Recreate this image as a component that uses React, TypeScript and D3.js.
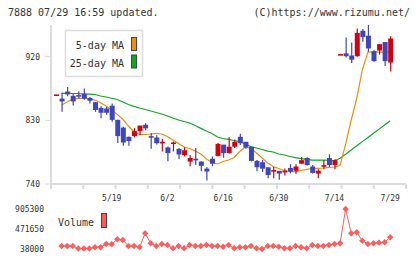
import React, { useEffect } from 'react';
import * as d3 from 'd3';

// trading days shown on the chart
const dates = [
  '5/1', '5/2', '5/7', '5/8', '5/9', '5/12', '5/13', '5/14', '5/15', '5/16',
  '5/19', '5/20', '5/21', '5/22', '5/23', '5/26', '5/27', '5/28', '5/29', '5/30',
  '6/2', '6/3', '6/4', '6/5', '6/6', '6/9', '6/10', '6/11', '6/12', '6/13',
  '6/16', '6/17', '6/18', '6/19', '6/20', '6/23', '6/24', '6/25', '6/26', '6/27',
  '6/30', '7/1', '7/2', '7/3', '7/4', '7/7', '7/8', '7/9', '7/10', '7/11',
  '7/14', '7/15', '7/16', '7/17', '7/18', '7/22', '7/23', '7/24', '7/25', '7/28',
  '7/29',
];

const opens = [
  866, 860, 870, 864, 865, 867, 861, 855, 847, 846,
  850, 830, 819, 806, 807, 814, 823, 807, 805, 798,
  791, 797, 789, 780, 771, 775, 771, 761, 775, 779,
  795, 783, 792, 806, 799, 792, 772, 770, 763, 758,
  758, 757, 762, 758, 768, 776, 764, 754, 765, 776,
  766, 923, 924, 921, 920, 956, 949, 927, 928, 940,
  911,
];
const highs = [
  866, 869, 877, 868, 871, 875, 863, 856, 850, 849,
  854, 831, 821, 807, 819, 822, 826, 812, 809, 804,
  793, 800, 791, 792, 781, 791, 772, 764, 779, 798,
  795, 806, 803, 811, 799, 793, 774, 774, 763, 764,
  758, 762, 768, 768, 778, 778, 767, 761, 774, 782,
  775, 923, 947, 940, 960, 959, 965, 929, 938, 940,
  949,
];
const lows = [
  866, 842, 864, 851, 861, 859, 854, 842, 833, 838,
  828, 798, 794, 794, 806, 809, 816, 790, 796, 786,
  772, 786, 775, 779, 765, 767, 758, 745, 765, 779,
  777, 783, 791, 795, 790, 772, 758, 757, 748, 748,
  746, 752, 755, 754, 768, 766, 755, 748, 761, 764,
  761, 923, 919, 911, 920, 941, 927, 913, 923, 907,
  899,
];
const closes = [
  866, 856, 866, 856, 864, 860, 857, 844, 840, 840,
  830, 807, 798, 800, 814, 822, 818, 805, 797, 799,
  783, 798, 781, 787, 776, 773, 765, 757, 768, 796,
  783, 792, 799, 797, 791, 772, 763, 761, 752, 759,
  754, 758, 757, 764, 773, 766, 755, 758, 766, 766,
  773, 923, 920, 915, 953, 947, 931, 913, 937, 913,
  945,
];

const ma5 = [
  null, 851.7, 855.9, 860.2, 861.1, 861.1, 860.2, 858.7, 854.9, 850.3,
  844.5, 838.5, 831.5, 822, 813.5, 810, 810, 810.7, 811.7, 810.7,
  807.1, 802.2, 797.2, 792.3, 790.2, 786.6, 782.4, 775.3, 770.4, 768.3,
  771.8, 773.9, 777.5, 785.9, 792.3, 790.2, 783.8, 776.8, 769.7, 764.7,
  761.9, 759.1, 757.4, 757.4, 759.1, 760.8, 761.9, 762.2, 762.6, 763.6,
  764, 766.2, 796.5, 830.5, 861.6, 901.2, 926.6, 927.3, 926.6, 926.6,
  926.6,
];
const ma25 = [
  null, 868.2, 868.2, 868, 868, 867.2, 867.2, 866.5, 864.4, 863,
  861.2, 859.5, 855.9, 852.4, 849.8, 847.4, 845.3, 843.2, 841.1, 839,
  836.1, 833.3, 830.5, 828.4, 826.2, 822.7, 818.7, 814.9, 811.4, 806.4,
  804.3, 803.2, 801.5, 799.8, 796.5, 792.7, 790.9, 788.8, 786.6, 785.2,
  782.4, 781, 778.9, 777.2, 776, 774.9, 773.9, 773.9, 773.9, 773.5,
  772.9, 776.3, 782.1, 788.1, 794, 799.9, 805.7, 811.7, 817.6, 823.5,
  829.5,
];

const volumes = [
  null, 103000, 103000, 103000, 50000, 50000, 50000, 75000, 75000, 146000,
  140000, 248000, 233000, 103000, 103000, 75000, 378000, 162000, 103000, 146000,
  125000, 53000, 103000, 53000, 125000, 103000, 103000, 125000, 103000, 103000,
  88000, 125000, 53000, 75000, 75000, 103000, 53000, 38000, 103000, 103000,
  88000, 53000, 53000, 103000, 75000, 53000, 125000, 103000, 103000, 125000,
  146000, 162000, 905300, 378000, 400000, 218000, 146000, 162000, 175000, 183000,
  292000,
];

const dateLabels = ['5/19', '6/2', '6/16', '6/30', '7/14', '7/29'];
const priceTicks = [920, 830, 740];
const volumeTicks = [905300, 471650, 38000];

const UP = '#d40012';
const DOWN = '#3d46bd';
const VOL = '#ff5c5c';
const GRID = '#dcdcdc';
const TEXT = '#333';
const FONT = '"DejaVu Sans Mono", monospace';

export default function App() {
  useEffect(() => {
    d3.select('#chart').selectAll('*').remove();

    const svg = d3
      .select('#chart')
      .append('svg')
      .attr('width', 420)
      .attr('height', 259)
      .style('display', 'block')
      .style('background', '#fff');

    const xScale = d3.scalePoint().domain(dates).range([56, 390.2]);
    const yScale = d3.scaleLinear().domain([740, 920]).range([184, 56.7]);
    const vScale = d3
      .scaleLinear()
      .domain([38000, 905300])
      .range([249, 209]);

    // header
    svg
      .append('text')
      .attr('x', 8)
      .attr('y', 16)
      .attr('font-family', FONT)
      .attr('font-size', 10)
      .attr('fill', TEXT)
      .text('7888 07/29 16:59 updated.');
    svg
      .append('text')
      .attr('x', 410)
      .attr('y', 16)
      .attr('text-anchor', 'end')
      .attr('font-family', FONT)
      .attr('font-size', 10)
      .attr('fill', TEXT)
      .text('(C)https://www.rizumu.net/');

    // frame
    svg
      .append('line')
      .attr('x1', 51)
      .attr('x2', 51)
      .attr('y1', 25)
      .attr('y2', 189)
      .attr('stroke', GRID)
      .attr('stroke-width', 2);
    svg
      .append('line')
      .attr('x1', 51)
      .attr('x2', 406)
      .attr('y1', 184)
      .attr('y2', 184)
      .attr('stroke', GRID)
      .attr('stroke-width', 2);

    const gridX = d3.scaleLinear().domain([0, 11]).range([51, 406]);
    svg
      .selectAll('line.xtick')
      .data(d3.range(12))
      .enter()
      .append('line')
      .attr('class', 'xtick')
      .attr('x1', (d) => gridX(d))
      .attr('x2', (d) => gridX(d))
      .attr('y1', 184)
      .attr('y2', 189)
      .attr('stroke', GRID)
      .attr('stroke-width', 2);

    svg
      .selectAll('line.ytick')
      .data(priceTicks)
      .enter()
      .append('line')
      .attr('class', 'ytick')
      .attr('x1', 45)
      .attr('x2', 51)
      .attr('y1', (d) => yScale(d))
      .attr('y2', (d) => yScale(d))
      .attr('stroke', GRID)
      .attr('stroke-width', 1);

    svg
      .selectAll('text.ylabel')
      .data(priceTicks)
      .enter()
      .append('text')
      .attr('class', 'ylabel')
      .attr('x', 40)
      .attr('y', (d) => yScale(d) + 3)
      .attr('text-anchor', 'end')
      .attr('font-family', FONT)
      .attr('font-size', 8)
      .attr('fill', TEXT)
      .text((d) => d);

    svg
      .selectAll('text.xlabel')
      .data(dateLabels)
      .enter()
      .append('text')
      .attr('class', 'xlabel')
      .attr('x', (d) => xScale(d) as number)
      .attr('y', 201)
      .attr('text-anchor', 'middle')
      .attr('font-family', FONT)
      .attr('font-size', 8)
      .attr('fill', TEXT)
      .text((d) => d);

    // legend box
    const legend = svg.append('g');
    legend
      .append('rect')
      .attr('x', 65.5)
      .attr('y', 30.5)
      .attr('width', 77)
      .attr('height', 46)
      .attr('fill', '#fff')
      .attr('stroke', GRID)
      .attr('stroke-width', 1.5);
    const legendItems = [
      { label: '5-day MA', color: '#f08c10', y: 44 },
      { label: '25-day MA', color: '#10a820', y: 61.5 },
    ];
    legend
      .selectAll('text')
      .data(legendItems)
      .enter()
      .append('text')
      .attr('x', 124)
      .attr('y', (d) => d.y + 5)
      .attr('text-anchor', 'end')
      .attr('font-family', FONT)
      .attr('font-size', 10)
      .attr('fill', TEXT)
      .text((d) => d.label);
    legend
      .selectAll('rect.swatch')
      .data(legendItems)
      .enter()
      .append('rect')
      .attr('class', 'swatch')
      .attr('x', 131.5)
      .attr('y', (d) => d.y - 6.5)
      .attr('width', 5)
      .attr('height', 13)
      .attr('fill', (d) => d.color)
      .attr('stroke', '#444')
      .attr('stroke-width', 1);

    // moving averages
    const idx = d3.range(dates.length);
    const maLine = (values: (number | null)[]) =>
      d3
        .line<number>()
        .defined((i) => values[i] != null)
        .x((i) => xScale(dates[i]) as number)
        .y((i) => yScale(values[i] as number));

    svg
      .append('path')
      .attr('d', maLine(ma25)(idx))
      .attr('fill', 'none')
      .attr('stroke', '#10a820')
      .attr('stroke-width', 1.2);
    svg
      .append('path')
      .attr('d', maLine(ma5)(idx))
      .attr('fill', 'none')
      .attr('stroke', '#f08c10')
      .attr('stroke-width', 1.2);

    // candles
    const candles = svg
      .selectAll('g.candle')
      .data(idx)
      .enter()
      .append('g')
      .attr('class', 'candle');
    const color = (i: number) => (closes[i] >= opens[i] ? UP : DOWN);

    candles
      .append('line')
      .attr('x1', (i) => (xScale(dates[i]) as number) + 0.5)
      .attr('x2', (i) => (xScale(dates[i]) as number) + 0.5)
      .attr('y1', (i) => yScale(highs[i]))
      .attr('y2', (i) => yScale(lows[i]))
      .attr('stroke', color)
      .attr('stroke-width', 1.2);

    candles
      .append('rect')
      .attr('x', (i) => (xScale(dates[i]) as number) - 2)
      .attr('y', (i) => yScale(Math.max(opens[i], closes[i])) - 0.5)
      .attr('width', 5)
      .attr('height', (i) =>
        Math.max(
          1.6,
          yScale(Math.min(opens[i], closes[i])) -
            yScale(Math.max(opens[i], closes[i]))
        )
      )
      .attr('fill', color);

    // volume
    const volIdx = idx.filter((i) => volumes[i] != null);
    const volLine = d3
      .line<number>()
      .x((i) => xScale(dates[i]) as number)
      .y((i) => vScale(volumes[i] as number));

    svg
      .append('path')
      .attr('d', volLine(volIdx))
      .attr('fill', 'none')
      .attr('stroke', VOL)
      .attr('stroke-width', 1);

    const diamond = d3.symbol().type(d3.symbolDiamond2).size(26);
    svg
      .selectAll('path.vdot')
      .data(volIdx)
      .enter()
      .append('path')
      .attr('class', 'vdot')
      .attr('d', diamond)
      .attr(
        'transform',
        (i) =>
          `translate(${xScale(dates[i])}, ${vScale(volumes[i] as number)})`
      )
      .attr('fill', VOL);

    svg
      .selectAll('text.vlabel')
      .data(volumeTicks)
      .enter()
      .append('text')
      .attr('class', 'vlabel')
      .attr('x', 44)
      .attr('y', (d) => vScale(d) + 3)
      .attr('text-anchor', 'end')
      .attr('font-family', FONT)
      .attr('font-size', 8)
      .attr('fill', TEXT)
      .text((d) => d);

    svg
      .append('text')
      .attr('x', 58)
      .attr('y', 226)
      .attr('font-family', FONT)
      .attr('font-size', 10)
      .attr('fill', TEXT)
      .text('Volume');
    svg
      .append('rect')
      .attr('x', 101.5)
      .attr('y', 213.5)
      .attr('width', 5)
      .attr('height', 14)
      .attr('fill', VOL)
      .attr('stroke', '#444')
      .attr('stroke-width', 1);
  }, []);

  return (
    <div
      id="chart"
      style={{ position: 'absolute', left: 0, top: 0, width: 420, height: 259 }}
    ></div>
  );
}
